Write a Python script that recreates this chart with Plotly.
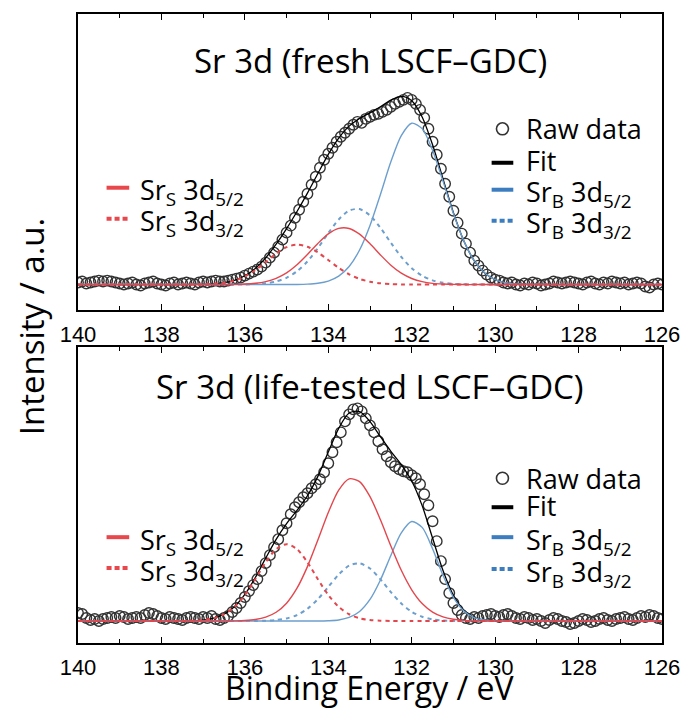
import plotly.graph_objects as go

# ---------------- data ----------------
raw_energy = [round(140.0 - 0.1 * i, 1) for i in range(141)]
comp_energy = [140.0] + [137.5 - 0.25 * i for i in range(33)] + [126.0]

fresh_raw = [
    2, 3, 1, 2, 3, 4, 3, 4, 3, 2,
    1, 0, 1, 2, 0, -1, 1, 2, 3, 1,
    0, -1, 1, 2, 0, 1, 2, 1, 0, 2,
    3, 2, 3, 4, 3, 3, 4, 5, 6, 7,
    9, 11, 13, 15, 18, 22, 27, 32, 38, 45,
    52, 59, 67, 75, 83, 91, 100, 108, 117, 125,
    131, 137, 143, 148, 152, 156, 160, 163, 162, 166,
    168, 170, 171, 173, 175, 178, 181, 183, 185, 187,
    185, 181, 175, 167, 156, 143, 130, 116, 101, 88,
    74, 62, 51, 41, 32, 24, 19, 14, 10, 7,
    5, 4, 2, 1, 2, 0, -1, 1, 0, 2,
    1, -1, 0, 1, 3, 2, 1, 2, 3, 2,
    1, 0, 2, 3, 1, 0, 2, 1, 3, 2,
    1, 2, 0, 1, 2, 1, -2, -3, 0, 1,
    0]
fresh_fit = [0, 0.1, 0.2, 0.7, 1.9, 4.3, 8.8, 16.2, 26.8, 40.4,
             56.0, 73.2, 91.6, 111.2, 130.4, 146.7, 158.7, 166.4, 172.0, 178.1,
             184.7, 188.5, 184.2, 167.9, 140.0, 105.9, 72.0, 43.7, 23.8, 11.6,
             5.0, 1.9, 0.7]
fresh_srs_52 = [0, 0, 0, 0, 0.05, 0.2, 0.5, 1.3, 3.0, 6.3,
                11.7, 19.8, 30.1, 41.2, 50.8, 56.3, 56.2, 50.5, 40.8, 29.7,
                19.4, 11.4, 6.1, 2.9, 1.2, 0.5, 0.2, 0, 0, 0,
                0, 0, 0]
fresh_srs_32 = [0, 0.07, 0.2, 0.7, 1.8, 4.0, 8.1, 14.4, 22.5, 31.0,
                37.5, 40, 37.9, 32.2, 24.6, 16.8, 10.3, 5.7, 2.8, 1.25,
                0.5, 0.18, 0.06, 0, 0, 0, 0, 0, 0, 0,
                0, 0, 0]
fresh_srb_52 = [0, 0, 0, 0, 0, 0, 0, 0, 0, 0,
                0, 0.1, 0.4, 1.3, 3.5, 8.4, 18.1, 34.6, 59.2, 90.3,
                122.9, 149.2, 161.6, 156.2, 134.6, 103.6, 71.1, 43.5, 23.7, 11.6,
                5.0, 1.9, 0.7]
fresh_srb_32 = [0, 0, 0, 0, 0, 0.05, 0.16, 0.5, 1.3, 3.1,
                6.8, 13.3, 23.2, 36.5, 51.5, 65.2, 74.1, 75.6, 69.2, 56.8,
                41.9, 27.7, 16.4, 8.8, 4.2, 1.8, 0.7, 0.24, 0.07, 0,
                0, 0, 0]

aged_raw = [
    8, 7, 3, 1, 2, 0, 2, 3, 4, 3,
    5, 4, 2, 3, 4, 3, 6, 8, 7, 5,
    3, 2, 4, 3, 2, 1, 3, 4, 3, 2,
    4, 3, 5, 2, 1, 3, 5, 9, 13, 18,
    24, 30, 36, 42, 50, 58, 66, 74, 82, 91,
    98, 107, 114, 119, 124, 128, 133, 137, 142, 149,
    158, 169, 179, 189, 200, 207, 212, 213, 210, 203,
    196, 189, 180, 172, 165, 159, 155, 152, 150, 149,
    146, 143, 137, 127, 116, 100, 80, 60, 42, 28,
    18, 11, 6, 3, 2, 4, 3, 5, 6, 7,
    5, 4, 6, 7, 5, 3, 2, 4, 3, 1,
    2, 0, -2, 1, 3, 2, 0, -1, -3, -2,
    0, 2, 1, -1, 0, 2, 3, 1, 0, 2,
    3, 4, 2, 1, 3, 5, 4, 6, 5, 3,
    2]
aged_fit = [0.1, 0.3, 1.0, 2.8, 6.9, 14.4, 26.6, 43.5, 63.0, 81.8,
            97.5, 110.9, 125.5, 144.9, 169.3, 193.0, 208.3, 209.8, 199.8, 184.6,
            170.0, 156.7, 140.3, 115.6, 83.1, 50.6, 25.7, 10.8, 3.7, 1.0,
            0.2, 0, 0]
aged_srs_52 = [0, 0, 0, 0.01, 0.05, 0.17, 0.5, 1.5, 3.9, 8.8,
               17.9, 32.9, 54.5, 81.1, 108.7, 131.1, 142.4, 139.6, 124.6, 101.4,
               75.2, 50.8, 31.3, 17.5, 9.0, 4.2, 1.8, 0.7, 0.2, 0,
               0, 0, 0]
aged_srs_32 = [0.09, 0.32, 1.0, 2.8, 6.8, 14.2, 26.1, 41.9, 58.8, 72.0,
               77, 72.0, 58.8, 41.9, 26.1, 14.2, 6.8, 2.8, 1.0, 0.32,
               0.09, 0, 0, 0, 0, 0, 0, 0, 0, 0,
               0, 0, 0]
aged_srb_52 = [0, 0, 0, 0, 0, 0, 0, 0, 0, 0,
               0, 0, 0, 0, 0.3, 1.1, 3.6, 9.6, 21.6, 41.1,
               65.7, 88.3, 99.7, 93.8, 72.4, 45.8, 23.7, 10.1, 3.5, 1.0,
               0.2, 0, 0]
aged_srb_32 = [0, 0, 0, 0, 0, 0, 0, 0.09, 0.3, 1.0,
               2.6, 6.0, 12.2, 21.9, 34.2, 46.6, 55.5, 57.8, 52.6, 41.8,
               29.0, 17.6, 9.3, 4.3, 1.7, 0.6, 0.2, 0, 0, 0,
               0, 0, 0]

panel_titles = ["Sr 3d (fresh LSCF\u2013GDC)", "Sr 3d (life-tested LSCF\u2013GDC)"]
x_ticks = [140, 138, 136, 134, 132, 130, 128, 126]

# ---------------- styles ----------------
RED = "#E3474D"
BLUE = "#6C9FCE"
RED_LEG = "#E8474C"
BLUE_LEG = "#3B7DBE"
RAWC = "#333333"
TEXT_FONT = "Open Sans, Noto Sans, sans-serif"
TICK_FONT = "Arial, Liberation Sans, sans-serif"

W, H = 692, 711
ML, MR, MT, MB = 78, 21, 13, 68
PW, PH = W - ML - MR, H - MT - MB


def px_x(x):
    return (x - ML) / PW


def px_y(y):
    return (H - MB - y) / PH


fig = go.Figure()

panels = [
    ("x", "y", fresh_raw, fresh_fit, fresh_srs_52, fresh_srs_32, fresh_srb_52, fresh_srb_32),
    ("x2", "y2", aged_raw, aged_fit, aged_srs_52, aged_srs_32, aged_srb_52, aged_srb_32),
]


def pad(v):
    return [0] + list(v) + [0]


for xa, ya, raw, fit, s52, s32, b52, b32 in panels:
    fig.add_trace(go.Scatter(x=raw_energy, y=raw, mode="markers", xaxis=xa, yaxis=ya,
                             marker=dict(symbol="circle-open", size=10.5,
                                         color=RAWC, line=dict(width=1.4, color=RAWC)),
                             showlegend=False, name="Raw data"))
    fig.add_trace(go.Scatter(x=comp_energy, y=pad(fit), mode="lines", xaxis=xa, yaxis=ya,
                             line=dict(color="black", width=1.3, shape="spline", smoothing=0.8),
                             showlegend=False, name="Fit"))
    fig.add_trace(go.Scatter(x=comp_energy, y=pad(b32), mode="lines", xaxis=xa, yaxis=ya,
                             line=dict(color=BLUE, width=2, dash="4px,4px", shape="spline", smoothing=0.8),
                             showlegend=False))
    fig.add_trace(go.Scatter(x=comp_energy, y=pad(b52), mode="lines", xaxis=xa, yaxis=ya,
                             line=dict(color=BLUE, width=1.4, shape="spline", smoothing=0.8),
                             showlegend=False))
    fig.add_trace(go.Scatter(x=comp_energy, y=pad(s32), mode="lines", xaxis=xa, yaxis=ya,
                             line=dict(color=RED, width=2, dash="4px,4px", shape="spline", smoothing=0.8),
                             showlegend=False))
    fig.add_trace(go.Scatter(x=comp_energy, y=pad(s52), mode="lines", xaxis=xa, yaxis=ya,
                             line=dict(color=RED, width=1.4, shape="spline", smoothing=0.8),
                             showlegend=False))

xcommon = dict(range=[140, 126], tickmode="array", tickvals=x_ticks,
               ticks="inside", ticklen=6, tickwidth=1.3, tickcolor="black",
               showline=True, linecolor="black", linewidth=1.5, mirror="allticks",
               showgrid=False, zeroline=False,
               tickfont=dict(family=TICK_FONT, size=22, color="black"),
               ticklabelstandoff=4,
               minor=dict(ticks="inside", dtick=1, ticklen=4, tickwidth=1.3, tickcolor="black",
                          showgrid=False))
ycommon = dict(showline=True, linecolor="black", linewidth=1.5, mirror=True,
               showgrid=False, zeroline=False, showticklabels=False, ticks="")

top_bottom = px_y(309)
bot_top = px_y(347)
fig.update_layout(
    width=W, height=H, margin=dict(l=ML, r=MR, t=MT, b=MB),
    paper_bgcolor="white", plot_bgcolor="white",
    xaxis=dict(anchor="y", domain=[0, 1], **xcommon),
    yaxis=dict(anchor="x", domain=[top_bottom, 1], range=[-25, 271], **ycommon),
    xaxis2=dict(anchor="y2", domain=[0, 1], **xcommon),
    yaxis2=dict(anchor="x2", domain=[0, bot_top], range=[-22, 274], **ycommon),
    showlegend=False,
)

ann = []
shapes = []
# panel titles
ann.append(dict(text=panel_titles[0], x=0.5, y=px_y(60), xref="paper", yref="paper",
                xanchor="center", yanchor="middle", showarrow=False,
                font=dict(family=TEXT_FONT, size=33, color="black")))
ann.append(dict(text=panel_titles[1], x=0.5, y=px_y(386), xref="paper", yref="paper",
                xanchor="center", yanchor="middle", showarrow=False,
                font=dict(family=TEXT_FONT, size=33, color="black")))
# axis titles
ann.append(dict(text="Binding Energy / eV", x=0.5, y=px_y(711), xref="paper", yref="paper",
                xanchor="center", yanchor="bottom", showarrow=False,
                font=dict(family=TEXT_FONT, size=32, color="black")))
ann.append(dict(text="Intensity / a.u.", x=px_x(31), y=px_y(326), xref="paper", yref="paper",
                xanchor="center", yanchor="middle", showarrow=False, textangle=-90,
                font=dict(family=TEXT_FONT, size=33, color="black")))

LEG_FONT = dict(family=TEXT_FONT, size=27, color="black")


def leg_text(txt, xp, yp):
    ann.append(dict(text=txt, x=px_x(xp), y=px_y(yp), xref="paper", yref="paper",
                    xanchor="left", yanchor="middle", showarrow=False, font=LEG_FONT))


def leg_line(x0, x1, yp, color, dash=None):
    ln = dict(color=color, width=4)
    if dash:
        ln["dash"] = dash
    shapes.append(dict(type="line", xref="paper", yref="paper",
                       x0=px_x(x0), x1=px_x(x1), y0=px_y(yp), y1=px_y(yp), line=ln))


def leg_circle(xp, yp):
    shapes.append(dict(type="circle", xref="paper", yref="paper",
                       xsizemode="pixel", ysizemode="pixel",
                       xanchor=px_x(xp), yanchor=px_y(yp), x0=-6, x1=6, y0=-6, y1=6,
                       line=dict(color=RAWC, width=1.6)))


srs52 = "Sr<sub>S</sub> 3d<sub>5/2</sub>"
srs32 = "Sr<sub>S</sub> 3d<sub>3/2</sub>"
srb52 = "Sr<sub>B</sub> 3d<sub>5/2</sub>"
srb32 = "Sr<sub>B</sub> 3d<sub>3/2</sub>"

for (raw_y, fit_y, b5_y, b3_y, s5_y, s3_y) in [(128, 162, 189, 220, 187, 218),
                                                (478, 507, 537, 569, 537, 568)]:
    leg_circle(509, raw_y)
    leg_text("Raw data", 531, raw_y)
    leg_line(498, 520, fit_y, "black")
    leg_text("Fit", 531, fit_y - 2)
    leg_line(498, 520, b5_y, BLUE_LEG)
    leg_text(srb52, 531, b5_y + 4)
    leg_line(498, 520, b3_y, BLUE_LEG, "5px,3px")
    leg_text(srb32, 531, b3_y + 4)
    leg_line(107, 130, s5_y, RED_LEG)
    leg_text(srs52, 139, s5_y + 4)
    leg_line(107, 130, s3_y, RED_LEG, "5px,3px")
    leg_text(srs32, 139, s3_y + 4)

fig.update_layout(annotations=ann, shapes=shapes)
fig.write_html("out.html")
